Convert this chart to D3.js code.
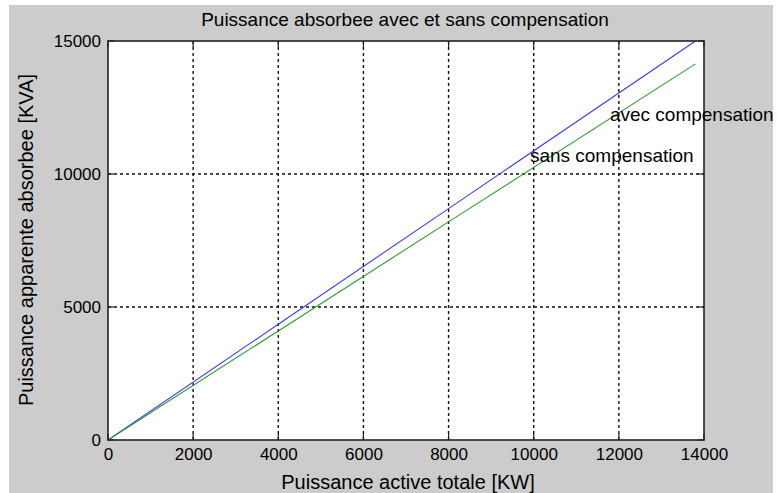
<!DOCTYPE html>
<html><head><meta charset="utf-8">
<script src="https://cdn.jsdelivr.net/npm/d3@7"></script>
<style>body{margin:0;background:#fff;} text{font-family:"Liberation Sans",Arial,sans-serif;fill:#000;}</style>
</head><body>
<svg id="c" width="778" height="493"></svg>
<script>
const title = "Puissance absorbee avec et sans compensation";
const xLabel = "Puissance active totale [KW]";
const yLabel = "Puissance apparente absorbee [KVA]";
const activePower = [0, 4000, 8000, 13800];
const sansComp = [0, 4350, 8700, 15000];
const avecComp = [0, 4100, 8200, 14140];
const xTicks = [0, 2000, 4000, 6000, 8000, 10000, 12000, 14000];
const yTicks = [0, 5000, 10000, 15000];
const labels = [
  {text: "avec compensation", x: 11790, y: 11980},
  {text: "sans compensation", x: 9910, y: 10440}
];

const svg = d3.select("#c");
svg.append("rect").attr("x",9).attr("y",5).attr("width",764).attr("height",488).attr("fill","#cccccc");
const L=108,R=704,T=41,B=440;
const x = d3.scaleLinear().domain([0,14000]).range([L,R]);
const y = d3.scaleLinear().domain([0,15000]).range([B,T]);
svg.append("rect").attr("x",L).attr("y",T).attr("width",R-L).attr("height",B-T).attr("fill","#fff");

const grid = svg.append("g");
grid.selectAll(".gx").data(xTicks.slice(1,-1)).join("line")
  .attr("x1",d=>x(d)).attr("x2",d=>x(d)).attr("y1",T).attr("y2",B)
  .attr("stroke","#111").attr("stroke-width",1.4).attr("stroke-dasharray","3,3");
grid.selectAll(".gy").data(yTicks.slice(1,-1)).join("line")
  .attr("y1",d=>y(d)).attr("y2",d=>y(d)).attr("x1",L).attr("x2",R)
  .attr("stroke","#111").attr("stroke-width",1.4).attr("stroke-dasharray","3,3");

// inward ticks on all sides
const tk = svg.append("g").attr("stroke","#222").attr("stroke-width",1.2);
xTicks.forEach(d=>{
  tk.append("line").attr("x1",x(d)).attr("x2",x(d)).attr("y1",B).attr("y2",B-6);
  tk.append("line").attr("x1",x(d)).attr("x2",x(d)).attr("y1",T).attr("y2",T+6);
});
yTicks.forEach(d=>{
  tk.append("line").attr("y1",y(d)).attr("y2",y(d)).attr("x1",L).attr("x2",L+6);
  tk.append("line").attr("y1",y(d)).attr("y2",y(d)).attr("x1",R).attr("x2",R-6);
});

const line = d3.line().x(d=>x(d[0])).y(d=>y(d[1]));
svg.append("path").datum(activePower.map((p,i)=>[p,sansComp[i]])).attr("d",line)
  .attr("fill","none").attr("stroke","#3b3bff").attr("stroke-width",1.1);
svg.append("path").datum(activePower.map((p,i)=>[p,avecComp[i]])).attr("d",line)
  .attr("fill","none").attr("stroke","#2a9a2a").attr("stroke-width",1.1);

svg.append("rect").attr("x",L).attr("y",T).attr("width",R-L).attr("height",B-T)
  .attr("fill","none").attr("stroke","#222").attr("stroke-width",1.6);

const xa = svg.append("g").attr("transform",`translate(0,${B})`)
  .call(d3.axisBottom(x).tickValues(xTicks).tickSize(0).tickPadding(8).tickFormat(d3.format("d")));
xa.select(".domain").remove();
xa.selectAll("text").attr("font-size",17).attr("font-family","Liberation Sans, Arial, sans-serif").attr("fill","#000");
const ya = svg.append("g").attr("transform",`translate(${L},0)`)
  .call(d3.axisLeft(y).tickValues(yTicks).tickSize(0).tickPadding(7).tickFormat(d3.format("d")));
ya.select(".domain").remove();
ya.selectAll("text").attr("font-size",17).attr("font-family","Liberation Sans, Arial, sans-serif").attr("fill","#000");

svg.append("text").attr("x",405).attr("y",26).attr("text-anchor","middle").attr("font-size",19).text(title);
svg.append("text").attr("x",408).attr("y",489).attr("text-anchor","middle").attr("font-size",20).text(xLabel);
svg.append("text").attr("transform","translate(33,240) rotate(-90)").attr("text-anchor","middle").attr("font-size",20).text(yLabel);

svg.selectAll(".lab").data(labels).join("text")
  .attr("x",d=>x(d.x)).attr("y",d=>y(d.y)).attr("font-size",19).text(d=>d.text);
</script>
</body></html>
